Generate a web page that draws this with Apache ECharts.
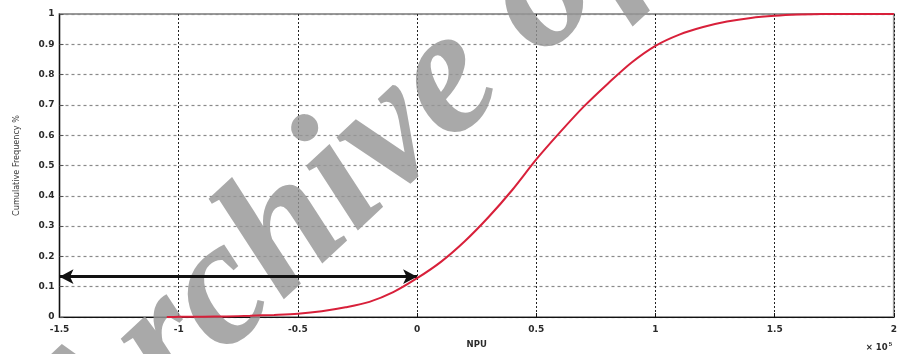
<!DOCTYPE html>
<html>
<head>
<meta charset="utf-8">
<script src="https://cdn.jsdelivr.net/npm/echarts@6/dist/echarts.min.js"></script>
<style>
  html, body { margin: 0; padding: 0; background: #fff; }
  #chart { width: 900px; height: 354px; }
</style>
</head>
<body>
<div id="chart"></div>
<script>
// NPU values (in units of 1e5) and the cumulative frequency at each one
const npuX = [-1.05, -1.0, -0.9, -0.8, -0.7, -0.6, -0.5, -0.4, -0.3, -0.2, -0.1,
              0.0, 0.1, 0.2, 0.3, 0.4, 0.5, 0.6, 0.7, 0.8, 0.9,
              1.0, 1.1, 1.2, 1.3, 1.4, 1.5, 1.6, 1.7, 1.8, 1.9, 2.0];
const cumFreq = [0.0, 0.0005, 0.001, 0.002, 0.004, 0.007, 0.011, 0.019, 0.032, 0.05, 0.082,
                 0.128, 0.182, 0.25, 0.33, 0.42, 0.52, 0.61, 0.695, 0.77, 0.84,
                 0.895, 0.932, 0.957, 0.975, 0.987, 0.994, 0.998, 1.0, 1.0, 1.0, 1.0];

// Horizontal double arrow marking the frequency level at NPU = 0
const arrowLevel = 0.133;
const arrowFrom = -1.5;
const arrowTo = 0;

// Axis ranges and tick steps
const xRange = [-1.5, 2];
const xStep = 0.5;
const yRange = [0, 1];
const yStep = 0.1;

const curve = npuX.map((x, i) => [x, cumFreq[i]]);

const labelFont = {
  color: '#2a2a2a',
  fontSize: 9,
  fontWeight: 'bold',
  fontFamily: '"DejaVu Sans", sans-serif'
};

const chart = echarts.init(document.getElementById('chart'), null, { renderer: 'canvas' });

chart.setOption({
  animation: false,
  backgroundColor: '#ffffff',
  grid: {
    left: 59.5, right: 3, top: 14, bottom: 36,
    show: true,
    borderColor: '#9a9a9a',
    borderWidth: 2,
    backgroundColor: 'transparent'
  },
  xAxis: {
    type: 'value',
    min: xRange[0], max: xRange[1], interval: xStep,
    name: 'NPU',
    nameLocation: 'middle',
    nameGap: 23,
    nameTextStyle: Object.assign({}, labelFont, { fontSize: 8.5 }),
    axisLine: { show: true, onZero: false, lineStyle: { color: '#111', width: 1.2 } },
    axisTick: { show: true, inside: true, length: 4, lineStyle: { color: '#111' } },
    axisLabel: Object.assign({}, labelFont, {
      margin: 8,
      formatter: v => String(+v.toFixed(1))
    }),
    splitLine: { show: true, lineStyle: { color: '#222', width: 1, type: [2, 2] } }
  },
  yAxis: {
    type: 'value',
    min: yRange[0], max: yRange[1], interval: yStep,
    name: 'Cumulative Frequency %',
    nameLocation: 'middle',
    nameRotate: 90,
    nameGap: 38,
    nameTextStyle: {
      color: '#3a3a3a',
      fontSize: 9,
      fontFamily: '"Liberation Sans Narrow", "DejaVu Sans Condensed", sans-serif'
    },
    axisLine: { show: true, onZero: false, lineStyle: { color: '#111', width: 1.2 } },
    axisTick: { show: true, inside: true, length: 4, lineStyle: { color: '#555' } },
    axisLabel: Object.assign({}, labelFont, {
      margin: 5,
      formatter: v => String(+v.toFixed(1))
    }),
    splitLine: { show: true, lineStyle: { color: '#8a8a8a', width: 1.2, type: [3, 3] } }
  },
  graphic: [
    {
      type: 'text',
      right: 8, bottom: 2,
      style: {
        text: '× 10{s|5}',
        fill: '#2a2a2a',
        font: 'bold 8.5px "DejaVu Sans", sans-serif',
        rich: { s: { fontSize: 6, fontWeight: 'bold', verticalAlign: 'top', padding: [0, 0, 6, 1] } }
      }
    },
    {
      // diagonal watermark across the plot
      type: 'text',
      x: 52, y: 452,
      rotation: 43 * Math.PI / 180,
      z: 1,
      silent: true,
      style: {
        text: 'Archive of SID',
        fill: 'rgba(150,150,150,0.82)',
        font: 'italic bold 180px "Liberation Serif", "DejaVu Serif", serif',
        textAlign: 'left',
        textVerticalAlign: 'middle'
      }
    }
  ],
  series: [
    {
      name: 'Cumulative Frequency',
      type: 'line',
      data: curve,
      smooth: 0.3,
      showSymbol: false,
      z: 5,
      lineStyle: { color: '#d8203a', width: 2 }
    },
    {
      name: 'Level',
      type: 'line',
      data: [],
      z: 6,
      markLine: {
        silent: true,
        symbol: ['arrow', 'arrow'],
        symbolSize: [11, 14],
        label: { show: false },
        lineStyle: { color: '#111', width: 3, type: 'solid' },
        data: [[{ coord: [arrowFrom, arrowLevel] }, { coord: [arrowTo, arrowLevel] }]]
      }
    }
  ]
});
</script>
</body>
</html>
